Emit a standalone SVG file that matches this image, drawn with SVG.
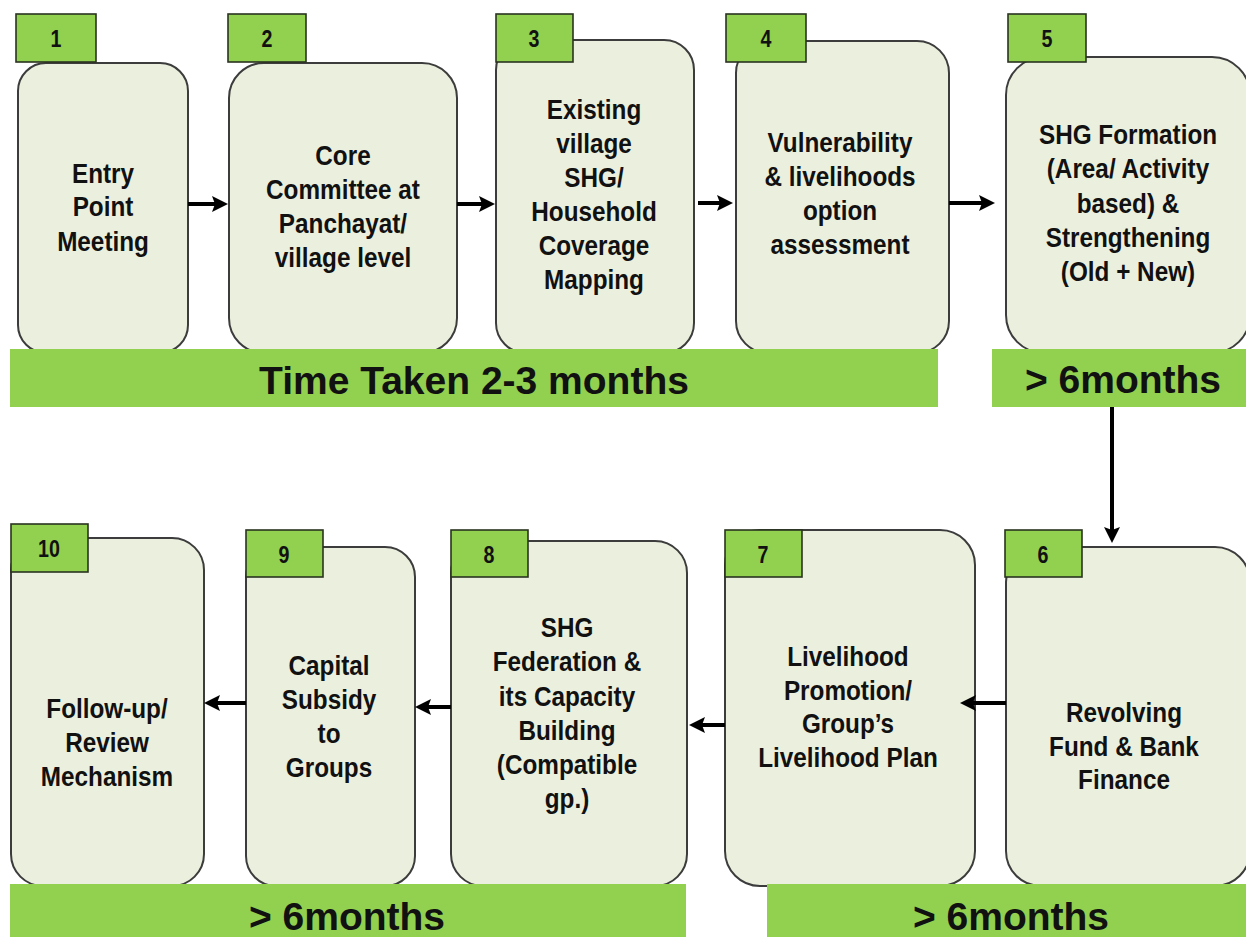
<svg xmlns="http://www.w3.org/2000/svg" width="1246" height="937" viewBox="0 0 1246 937">
<style>
.box{fill:#EBF0DE;stroke:#3c3c3c;stroke-width:2}
.tag{fill:#92D050;stroke:#2a3320;stroke-width:1.6}
.num{font-family:"Liberation Sans",Arial,sans-serif;font-weight:bold;font-size:24px;fill:#111;text-anchor:middle}
.t{font-family:"Liberation Sans",Arial,sans-serif;font-weight:bold;font-size:27px;fill:#111;text-anchor:middle}
.bar{fill:#92D050}
.bt{font-family:"Liberation Sans",Arial,sans-serif;font-weight:bold;font-size:39px;fill:#111;text-anchor:middle}
.c{stroke:#000;stroke-width:4;fill:none;marker-end:url(#ah)}
</style>
<defs>
<marker id="ah" markerUnits="userSpaceOnUse" markerWidth="18" markerHeight="18" refX="3" refY="8" orient="auto">
<path d="M0,0 L16,8 L0,16 L3,8 z" fill="#000"/>
</marker>
</defs>
<rect width="1246" height="937" fill="#fff"/>

<g id="node1">
<rect class="box" x="18" y="63" width="170" height="290" rx="28"/>
<rect class="tag" x="16" y="14" width="80" height="48"/>
<text class="num" transform="translate(56 0) scale(0.82 1)" x="0" y="47">1</text>
<text class="t" transform="translate(103 0) scale(0.9 1)"><tspan x="0" y="183">Entry</tspan><tspan x="0" y="216">Point</tspan><tspan x="0" y="251">Meeting</tspan></text>
</g>

<g id="node2">
<rect class="box" x="229" y="63" width="228" height="290" rx="35"/>
<rect class="tag" x="228" y="14" width="78" height="48"/>
<text class="num" transform="translate(267 0) scale(0.82 1)" x="0" y="47">2</text>
<text class="t" transform="translate(343 0) scale(0.9 1)"><tspan x="0" y="165">Core</tspan><tspan x="0" y="199">Committee at</tspan><tspan x="0" y="233">Panchayat/</tspan><tspan x="0" y="267">village level</tspan></text>
</g>

<g id="node3">
<rect class="box" x="496" y="40" width="198" height="313" rx="30"/>
<rect class="tag" x="496" y="14" width="77" height="48"/>
<text class="num" transform="translate(534 0) scale(0.82 1)" x="0" y="47">3</text>
<text class="t" transform="translate(594 0) scale(0.9 1)"><tspan x="0" y="119">Existing</tspan><tspan x="0" y="153">village</tspan><tspan x="0" y="187">SHG/</tspan><tspan x="0" y="221">Household</tspan><tspan x="0" y="255">Coverage</tspan><tspan x="0" y="289">Mapping</tspan></text>
</g>

<g id="node4">
<rect class="box" x="736" y="41" width="213" height="312" rx="32"/>
<rect class="tag" x="726" y="14" width="80" height="48"/>
<text class="num" transform="translate(766 0) scale(0.82 1)" x="0" y="47">4</text>
<text class="t" transform="translate(840 0) scale(0.9 1)"><tspan x="0" y="152">Vulnerability</tspan><tspan x="0" y="186">&amp; livelihoods</tspan><tspan x="0" y="220">option</tspan><tspan x="0" y="254">assessment</tspan></text>
</g>

<g id="node5">
<rect class="box" x="1006" y="57" width="244" height="296" rx="38"/>
<rect class="tag" x="1008" y="14" width="78" height="48"/>
<text class="num" transform="translate(1047 0) scale(0.82 1)" x="0" y="47">5</text>
<text class="t" transform="translate(1128 0) scale(0.9 1)"><tspan x="0" y="144">SHG Formation</tspan><tspan x="0" y="178">(Area/ Activity</tspan><tspan x="0" y="213">based) &amp;</tspan><tspan x="0" y="247">Strengthening</tspan><tspan x="0" y="281">(Old + New)</tspan></text>
</g>

<g id="node6">
<rect class="box" x="1006" y="547" width="244" height="339" rx="35"/>
<rect class="tag" x="1005" y="530" width="77" height="47"/>
<text class="num" transform="translate(1043 0) scale(0.82 1)" x="0" y="563">6</text>
<text class="t" transform="translate(1124 0) scale(0.9 1)"><tspan x="0" y="722">Revolving</tspan><tspan x="0" y="756">Fund &amp; Bank</tspan><tspan x="0" y="789">Finance</tspan></text>
</g>

<g id="node7">
<rect class="box" x="725" y="530" width="250" height="356" rx="35"/>
<rect class="tag" x="725" y="530" width="77" height="47"/>
<text class="num" transform="translate(763 0) scale(0.82 1)" x="0" y="563">7</text>
<text class="t" transform="translate(848 0) scale(0.9 1)"><tspan x="0" y="666">Livelihood</tspan><tspan x="0" y="700">Promotion/</tspan><tspan x="0" y="733">Group’s</tspan><tspan x="0" y="767">Livelihood Plan</tspan></text>
</g>

<g id="node8">
<rect class="box" x="451" y="541" width="236" height="345" rx="32"/>
<rect class="tag" x="451" y="530" width="77" height="47"/>
<text class="num" transform="translate(489 0) scale(0.82 1)" x="0" y="563">8</text>
<text class="t" transform="translate(567 0) scale(0.9 1)"><tspan x="0" y="637">SHG</tspan><tspan x="0" y="671">Federation &amp;</tspan><tspan x="0" y="706">its Capacity</tspan><tspan x="0" y="740">Building</tspan><tspan x="0" y="774">(Compatible</tspan><tspan x="0" y="808">gp.)</tspan></text>
</g>

<g id="node9">
<rect class="box" x="246" y="547" width="169" height="339" rx="30"/>
<rect class="tag" x="246" y="530" width="77" height="47"/>
<text class="num" transform="translate(284 0) scale(0.82 1)" x="0" y="563">9</text>
<text class="t" transform="translate(329 0) scale(0.9 1)"><tspan x="0" y="675">Capital</tspan><tspan x="0" y="709">Subsidy</tspan><tspan x="0" y="743">to</tspan><tspan x="0" y="777">Groups</tspan></text>
</g>

<g id="node10">
<rect class="box" x="11" y="538" width="193" height="348" rx="32"/>
<rect class="tag" x="11" y="524" width="77" height="48"/>
<text class="num" transform="translate(49 0) scale(0.82 1)" x="0" y="557">10</text>
<text class="t" transform="translate(107 0) scale(0.9 1)"><tspan x="0" y="718">Follow-up/</tspan><tspan x="0" y="752">Review</tspan><tspan x="0" y="786">Mechanism</tspan></text>
</g>

<g id="phases">
<rect class="bar" x="10" y="349" width="928" height="58"/>
<text class="bt" x="474" y="394">Time Taken 2-3 months</text>
<rect class="bar" x="992" y="349" width="254" height="58"/>
<text class="bt" x="1123" y="393">&gt; 6months</text>
<rect class="bar" x="10" y="884" width="676" height="53"/>
<text class="bt" x="347" y="930">&gt; 6months</text>
<rect class="bar" x="767" y="884" width="479" height="53"/>
<text class="bt" x="1011" y="930">&gt; 6months</text>
</g>

<g id="connectors">
<path class="c" d="M188,204 H215"/>
<path class="c" d="M457,204 H482"/>
<path class="c" d="M698,203 H720"/>
<path class="c" d="M949,203 H982"/>
<path class="c" d="M1112,407 V530"/>
<path class="c" d="M1006,703 H973"/>
<path class="c" d="M725,725 H702"/>
<path class="c" d="M451,707 H428"/>
<path class="c" d="M246,703 H217"/>
</g>
</svg>
